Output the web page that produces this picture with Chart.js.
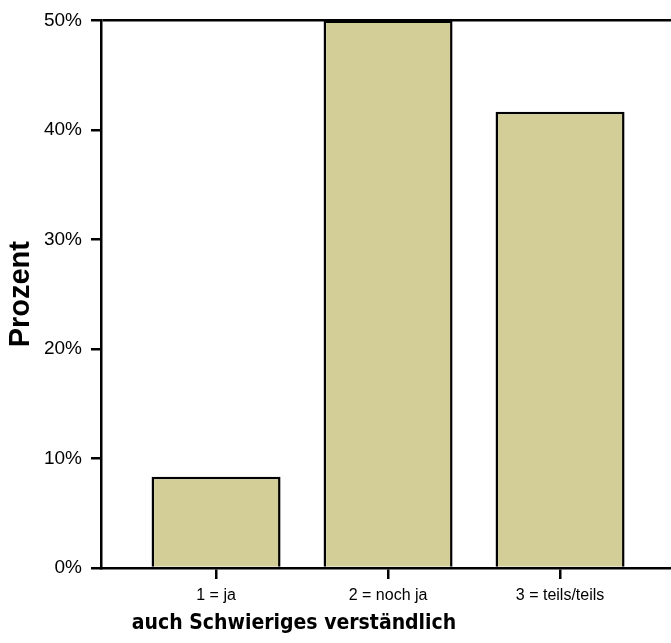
<!DOCTYPE html>
<html lang="de">
<head>
    <meta charset="UTF-8">
    <title>auch Schwieriges verständlich</title>
    <script src="https://cdn.jsdelivr.net/npm/chart.js"></script>
    <style>
        body { margin: 0; background: #fff; }
        #wrap { width: 671px; height: 643px; }
    </style>
</head>
<body>
    <div id="wrap"><canvas id="chart"></canvas></div>
    <script>
        const categories = ['1 = ja', '2 = noch ja', '3 = teils/teils'];
        const percent = [8.33, 50, 41.67];
        const yTicks = [0, 10, 20, 30, 40, 50];
        const xTitle = 'auch Schwieriges verständlich';
        const yTitle = 'Prozent';

        // x title sits left of the plot centre in the original, so draw it by hand
        const xTitlePlugin = {
            id: 'xTitle',
            afterDraw(chart) {
                const ctx = chart.ctx;
                ctx.save();
                ctx.font = 'bold 21px "DejaVu Sans Condensed", "Liberation Sans", sans-serif';
                ctx.fillStyle = '#000';
                ctx.textAlign = 'center';
                ctx.textBaseline = 'middle';
                ctx.fillText(xTitle, chart.chartArea.left + 193, 624);
                ctx.restore();
            }
        };

        new Chart(document.getElementById('chart'), {
            type: 'bar',
            data: {
                datasets: [{
                    data: percent.map((v, i) => ({ x: i + 1, y: v })),
                    backgroundColor: '#d3ce98',
                    borderColor: '#000',
                    borderWidth: 2.5,
                    barPercentage: 0.75,
                    categoryPercentage: 1
                }]
            },
            options: {
                responsive: true,
                maintainAspectRatio: false,
                animation: false,
                layout: { padding: { top: 13, right: 0, left: 0, bottom: 0 } },
                plugins: { legend: { display: false }, tooltip: { enabled: false } },
                scales: {
                    x: {
                        type: 'linear',
                        offset: false,
                        min: 0.331,
                        max: 3.645,
                        afterBuildTicks: s => { s.ticks = categories.map((c, i) => ({ value: i + 1 })); },
                        afterFit: s => { s.height = 75; },
                        ticks: {
                            callback: v => categories[v - 1],
                            color: '#000',
                            padding: 7,
                            maxRotation: 0,
                            font: { family: '"Liberation Sans", Arial, sans-serif', size: 16 }
                        },
                        grid: {
                            drawOnChartArea: false,
                            offset: false,
                            tickColor: '#000',
                            tickLength: 11,
                            lineWidth: 2.5
                        },
                        border: { color: '#000', width: 2.5 }
                    },
                    y: {
                        min: 0,
                        max: 50,
                        afterBuildTicks: s => { s.ticks = yTicks.map(v => ({ value: v })); },
                        afterFit: s => { s.width = 101; },
                        ticks: {
                            callback: v => v + '%',
                            color: '#000',
                            padding: 9,
                            font: { family: '"Liberation Sans", Arial, sans-serif', size: 19 }
                        },
                        grid: {
                            color: c => (c.tick && c.tick.value === 50) ? '#000' : 'rgba(0,0,0,0)',
                            tickColor: '#000',
                            tickLength: 10,
                            lineWidth: 2.5
                        },
                        border: { color: '#000', width: 2.5 },
                        title: {
                            display: true,
                            text: yTitle,
                            color: '#000',
                            padding: { top: 4, bottom: 0 },
                            font: { family: '"Liberation Sans", Arial, sans-serif', size: 29, weight: 'bold' }
                        }
                    }
                }
            },
            plugins: [xTitlePlugin]
        });
    </script>
</body>
</html>
